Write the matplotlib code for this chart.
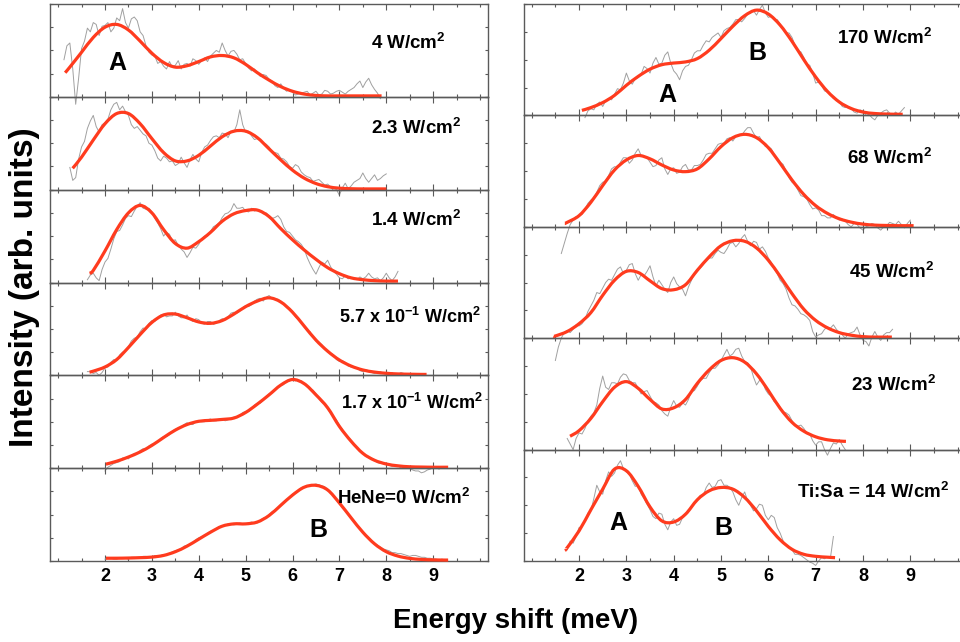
import numpy as np
import matplotlib
matplotlib.use("Agg")
import matplotlib.pyplot as plt
from matplotlib.ticker import FixedLocator, MultipleLocator, NullFormatter
from matplotlib.path import Path
from matplotlib.patches import PathPatch

plt.rcParams['font.family'] = ['Liberation Sans', 'DejaVu Sans']
plt.rcParams['mathtext.fontset'] = 'custom'
plt.rcParams['mathtext.rm'] = 'Liberation Sans:bold'
plt.rcParams['mathtext.default'] = 'rm'

# ---------------- data (energy shift in meV, intensity in panel units) -------------
RAW_STEP = 0.0625

# Left column, top to bottom
l1_label = "4 W/cm$^{2}$"
l1_fit_x = [1.15, 1.25, 1.5, 1.75, 2.0, 2.25, 2.5, 2.75, 3.0, 3.25, 3.5, 3.75, 4.0, 4.25, 4.5,
            4.75, 5.0, 5.25, 5.5, 5.75, 6.0, 6.25, 6.5, 6.75, 7.0, 7.25, 7.5, 7.75, 7.9]
l1_fit_y = [0.26, 0.32, 0.48, 0.64, 0.75, 0.78, 0.72, 0.60, 0.47, 0.37, 0.32, 0.335, 0.38, 0.43, 0.445,
            0.42, 0.35, 0.26, 0.18, 0.11, 0.06, 0.03, 0.015, 0.01, 0.01, 0.01, 0.01, 0.01, 0.01]
l1_raw_start = 1.125
l1_raw_y = [0.40, 0.55, 0.58, 0.30, -0.08, 0.20, 0.52, 0.60, 0.74, 0.70, 0.80, 0.78, 0.66, 0.76, 0.77,
            0.80, 0.70, 0.74, 0.85, 0.82, 0.95, 0.80, 0.74, 0.84, 0.86, 0.82, 0.70, 0.66, 0.55, 0.48,
            0.45, 0.44, 0.36, 0.38, 0.33, 0.30, 0.38, 0.32, 0.34, 0.39, 0.30, 0.35, 0.36, 0.33, 0.41,
            0.39, 0.35, 0.39, 0.42, 0.38, 0.44, 0.47, 0.50, 0.48, 0.58, 0.50, 0.44, 0.49, 0.50, 0.46,
            0.40, 0.41, 0.36, 0.31, 0.28, 0.30, 0.26, 0.22, 0.24, 0.23, 0.19, 0.17, 0.12, 0.10, 0.14,
            0.09, 0.06, 0.08, 0.05, 0.02, 0.03, 0.04, 0.05, 0.06, 0.02, 0.04, 0.06, 0.02, 0.03, 0.07,
            0.06, 0.03, 0.04, 0.06, 0.07, 0.05, 0.03, 0.06, 0.08, 0.10, 0.14, 0.17, 0.10, 0.16, 0.20,
            0.13, 0.08, 0.04, -0.02]

l2_label = "2.3 W/cm$^{2}$"
l2_fit_x = [1.31, 1.5, 1.75, 2.0, 2.25, 2.5, 2.75, 3.0, 3.25, 3.5, 3.75, 4.0, 4.25, 4.5, 4.75, 5.0,
            5.25, 5.5, 5.75, 6.0, 6.25, 6.5, 6.75, 7.0, 7.25, 7.5, 7.75, 8.0]
l2_fit_y = [0.23, 0.35, 0.535, 0.71, 0.82, 0.82, 0.71, 0.55, 0.40, 0.31, 0.31, 0.37, 0.47, 0.57, 0.63, 0.63,
            0.56, 0.44, 0.32, 0.21, 0.124, 0.066, 0.032, 0.016, 0.01, 0.008, 0.008, 0.008]
l2_raw_start = 1.25
l2_raw_y = [0.24, 0.10, 0.13, 0.33, 0.46, 0.52, 0.66, 0.74, 0.80, 0.68, 0.62, 0.70, 0.72, 0.76, 0.86,
            0.92, 0.94, 0.86, 0.90, 0.84, 0.80, 0.70, 0.66, 0.68, 0.64, 0.60, 0.58, 0.50, 0.48, 0.42,
            0.34, 0.31, 0.36, 0.34, 0.30, 0.31, 0.26, 0.28, 0.35, 0.29, 0.24, 0.32, 0.38, 0.33, 0.30,
            0.40, 0.46, 0.48, 0.53, 0.57, 0.58, 0.56, 0.61, 0.60, 0.56, 0.63, 0.62, 0.70, 0.86, 0.70,
            0.62, 0.63, 0.58, 0.54, 0.55, 0.53, 0.50, 0.49, 0.46, 0.41, 0.40, 0.39, 0.34, 0.33, 0.30,
            0.25, 0.23, 0.27, 0.25, 0.19, 0.16, 0.14, 0.13, 0.09, 0.10, 0.11, 0.08, 0.05, 0.06, 0.03,
            -0.01, 0.00, -0.06, 0.02, 0.07, 0.01, 0.04, 0.08, 0.10, 0.12, 0.18, 0.12, 0.08, 0.12, 0.16,
            0.10, 0.12, 0.15, 0.17]

l3_label = "1.4 W/cm$^{2}$"
l3_fit_x = [1.67, 1.75, 2.0, 2.25, 2.5, 2.75, 3.0, 3.25, 3.5, 3.75, 4.0, 4.25, 4.5, 4.75, 5.0, 5.25,
            5.5, 5.75, 6.0, 6.25, 6.5, 6.75, 7.0, 7.25, 7.5, 7.75, 8.0, 8.25]
l3_fit_y = [0.10, 0.13, 0.34, 0.57, 0.75, 0.83, 0.75, 0.57, 0.42, 0.37, 0.44, 0.54, 0.66, 0.74, 0.775, 0.78,
            0.71, 0.58, 0.46, 0.35, 0.25, 0.16, 0.095, 0.05, 0.03, 0.02, 0.015, 0.015]
l3_raw_start = 1.625
l3_raw_y = [0.03, 0.08, 0.10, 0.05, 0.02, 0.14, 0.22, 0.26, 0.36, 0.47, 0.55, 0.56, 0.62, 0.69, 0.72,
            0.71, 0.77, 0.82, 0.86, 0.80, 0.79, 0.80, 0.76, 0.69, 0.64, 0.58, 0.50, 0.54, 0.52, 0.45,
            0.46, 0.40, 0.36, 0.33, 0.27, 0.32, 0.38, 0.37, 0.41, 0.47, 0.50, 0.50, 0.55, 0.60, 0.62,
            0.64, 0.70, 0.74, 0.75, 0.78, 0.85, 0.80, 0.80, 0.81, 0.77, 0.76, 0.80, 0.77, 0.78, 0.77,
            0.74, 0.75, 0.72, 0.69, 0.70, 0.72, 0.68, 0.60, 0.55, 0.54, 0.50, 0.46, 0.44, 0.41, 0.36,
            0.27, 0.20, 0.14, 0.09, 0.16, 0.22, 0.20, 0.24, 0.17, 0.12, 0.09, 0.05, 0.04, 0.07, 0.04,
            0.05, 0.05, 0.03, 0.06, 0.04, 0.06, 0.10, 0.06, 0.04, 0.05, 0.02, 0.05, 0.10, 0.05, 0.02,
            0.06, 0.12]

l4_label = "5.7 x 10$^{-1}$ W/cm$^{2}$"
l4_fit_x = [1.67, 1.75, 2.0, 2.25, 2.5, 2.75, 3.0, 3.25, 3.5, 3.75, 4.0, 4.25, 4.5, 4.75, 5.0, 5.25,
            5.5, 5.75, 6.0, 6.25, 6.5, 6.75, 7.0, 7.25, 7.5, 7.75, 8.0, 8.25, 8.5, 8.75, 8.86]
l4_fit_y = [0.035, 0.045, 0.09, 0.17, 0.30, 0.44, 0.57, 0.65, 0.66, 0.62, 0.575, 0.56, 0.59, 0.66, 0.74,
            0.80, 0.835, 0.79, 0.68, 0.53, 0.38, 0.26, 0.165, 0.10, 0.058, 0.035, 0.022, 0.015, 0.012,
            0.01, 0.01]
l4_raw_start = 1.625
l4_raw_y = [0.04, 0.04, 0.02, 0.03, 0.00, 0.03, 0.08, 0.09, 0.14, 0.17, 0.16, 0.22, 0.25, 0.26, 0.31,
            0.37, 0.40, 0.41, 0.47, 0.51, 0.50, 0.56, 0.59, 0.58, 0.62, 0.65, 0.66, 0.63, 0.64, 0.64,
            0.68, 0.64, 0.62, 0.62, 0.65, 0.60, 0.58, 0.61, 0.60, 0.56, 0.55, 0.58, 0.58, 0.55, 0.56,
            0.59, 0.61, 0.60, 0.63, 0.67, 0.68, 0.67, 0.69, 0.73, 0.75, 0.74, 0.76, 0.80, 0.82, 0.83,
            0.80, 0.84, 0.86, 0.83, 0.82, 0.82, 0.80, 0.77, 0.73, 0.72, 0.69, 0.63, 0.60, 0.57, 0.52,
            0.48, 0.47, 0.41, 0.37, 0.36, 0.33, 0.28, 0.25, 0.24, 0.22, 0.17, 0.15, 0.16, 0.14, 0.10,
            0.09, 0.09, 0.08, 0.05, 0.04, 0.06, 0.05, 0.03, 0.02, 0.03, 0.04, 0.02, 0.01, 0.02, 0.03,
            0.00, 0.01, 0.03, 0.02, 0.01, 0.00, 0.02, 0.02, 0.00, 0.01]

l5_label = "1.7 x 10$^{-1}$ W/cm$^{2}$"
l5_fit_x = [2.02, 2.25, 2.5, 2.75, 3.0, 3.25, 3.5, 3.75, 4.0, 4.25, 4.5, 4.75, 5.0, 5.25, 5.5, 5.75,
            6.0, 6.25, 6.5, 6.75, 7.0, 7.25, 7.5, 7.75, 8.0, 8.25, 8.5, 8.75, 9.0, 9.25, 9.32]
l5_fit_y = [0.043, 0.075, 0.12, 0.175, 0.245, 0.33, 0.41, 0.47, 0.505, 0.515, 0.525, 0.54, 0.60, 0.69,
            0.79, 0.895, 0.955, 0.91, 0.79, 0.65, 0.45, 0.29, 0.16, 0.085, 0.045, 0.025, 0.015, 0.012,
            0.01, 0.01, 0.01]
l5_raw_start = 2.0
l5_raw_y = [-0.03, 0.01, 0.03, 0.05, 0.06, 0.07, 0.11, 0.11, 0.10, 0.14, 0.16, 0.16, 0.19, 0.21, 0.20,
            0.24, 0.26, 0.26, 0.28, 0.32, 0.34, 0.34, 0.36, 0.40, 0.42, 0.42, 0.44, 0.47, 0.49, 0.47,
            0.47, 0.50, 0.51, 0.50, 0.50, 0.52, 0.53, 0.51, 0.51, 0.53, 0.53, 0.51, 0.52, 0.54, 0.55,
            0.55, 0.57, 0.60, 0.61, 0.61, 0.64, 0.68, 0.70, 0.70, 0.73, 0.77, 0.80, 0.81, 0.84, 0.87,
            0.89, 0.90, 0.94, 0.94, 0.96, 0.94, 0.95, 0.94, 0.91, 0.89, 0.85, 0.84, 0.80, 0.75, 0.71,
            0.69, 0.64, 0.59, 0.56, 0.52, 0.46, 0.42, 0.37, 0.34, 0.30, 0.26, 0.21, 0.19, 0.16, 0.13,
            0.11, 0.11, 0.09, 0.06, 0.05, 0.06, 0.05, 0.03, 0.02, 0.03, 0.03, 0.00, 0.01, 0.02, 0.00,
            -0.02, -0.03, -0.03, -0.05, -0.04, -0.02, -0.01, 0.01, 0.01, -0.01, 0.01, 0.00]

l6_label = "HeNe=0 W/cm$^{2}$"
l6_fit_x = [2.02, 2.25, 2.5, 2.75, 3.0, 3.25, 3.5, 3.75, 4.0, 4.25, 4.5, 4.75, 5.0, 5.25, 5.5, 5.75,
            6.0, 6.25, 6.5, 6.75, 7.0, 7.25, 7.5, 7.75, 8.0, 8.25, 8.5, 8.75, 9.0, 9.25, 9.32]
l6_fit_y = [0.03, 0.03, 0.032, 0.036, 0.042, 0.06, 0.10, 0.16, 0.235, 0.31, 0.375, 0.40, 0.40, 0.42,
            0.49, 0.60, 0.71, 0.795, 0.815, 0.765, 0.625, 0.465, 0.31, 0.185, 0.10, 0.053, 0.028, 0.017,
            0.012, 0.01, 0.01]
l6_raw_start = 2.0
l6_raw_y = [0.02, 0.03, 0.03, 0.02, 0.02, 0.03, 0.03, 0.03, 0.02, 0.04, 0.04, 0.03, 0.03, 0.05, 0.05,
            0.04, 0.04, 0.06, 0.05, 0.06, 0.07, 0.07, 0.08, 0.10, 0.11, 0.12, 0.13, 0.16, 0.17, 0.18,
            0.20, 0.23, 0.25, 0.26, 0.27, 0.30, 0.32, 0.33, 0.35, 0.37, 0.38, 0.38, 0.40, 0.40, 0.39,
            0.40, 0.41, 0.40, 0.40, 0.41, 0.42, 0.41, 0.41, 0.44, 0.46, 0.47, 0.50, 0.53, 0.55, 0.57,
            0.61, 0.64, 0.66, 0.69, 0.72, 0.73, 0.76, 0.79, 0.80, 0.81, 0.81, 0.82, 0.83, 0.82, 0.81,
            0.80, 0.77, 0.74, 0.70, 0.66, 0.62, 0.59, 0.55, 0.50, 0.47, 0.43, 0.39, 0.35, 0.31, 0.28,
            0.25, 0.22, 0.19, 0.17, 0.15, 0.13, 0.12, 0.11, 0.09, 0.09, 0.08, 0.08, 0.07, 0.06, 0.05,
            0.06, 0.06, 0.05, 0.04, 0.04, 0.03, 0.03, 0.02, 0.02, 0.01, 0.02, 0.01]

# Right column, top to bottom
r1_label = "170 W/cm$^{2}$"
r1_fit_x = [2.06, 2.25, 2.5, 2.75, 3.0, 3.25, 3.5, 3.75, 4.0, 4.25, 4.5, 4.75, 5.0, 5.25, 5.5, 5.75,
            6.0, 6.25, 6.5, 6.75, 7.0, 7.25, 7.5, 7.75, 8.0, 8.25, 8.5, 8.75, 8.84]
r1_fit_y = [0.045, 0.07, 0.115, 0.18, 0.27, 0.35, 0.415, 0.455, 0.47, 0.48, 0.51, 0.585, 0.69, 0.80,
            0.895, 0.945, 0.91, 0.81, 0.665, 0.50, 0.345, 0.215, 0.12, 0.062, 0.03, 0.017, 0.012, 0.01,
            0.01]
r1_raw_start = 2.125
r1_raw_y = [-0.02, 0.04, 0.06, 0.05, 0.10, 0.12, 0.08, 0.13, 0.15, 0.14, 0.19, 0.24, 0.23, 0.29, 0.38,
            0.31, 0.28, 0.33, 0.34, 0.37, 0.44, 0.42, 0.38, 0.47, 0.52, 0.46, 0.47, 0.54, 0.57, 0.47,
            0.40, 0.37, 0.32, 0.40, 0.44, 0.45, 0.50, 0.56, 0.58, 0.58, 0.63, 0.67, 0.66, 0.70, 0.72,
            0.74, 0.70, 0.76, 0.78, 0.79, 0.82, 0.86, 0.86, 0.84, 0.87, 0.91, 0.92, 0.94, 0.90, 0.95,
            0.99, 0.92, 0.88, 0.89, 0.86, 0.86, 0.82, 0.77, 0.74, 0.74, 0.70, 0.63, 0.58, 0.57, 0.52,
            0.46, 0.45, 0.38, 0.29, 0.30, 0.27, 0.22, 0.21, 0.19, 0.15, 0.15, 0.12, 0.08, 0.07, 0.08,
            0.06, 0.03, 0.02, 0.05, 0.04, 0.00, 0.01, -0.02, -0.04, 0.00, 0.02, 0.04, 0.05, 0.02, 0.00,
            0.03, 0.01, 0.04, 0.07]

r2_label = "68 W/cm$^{2}$"
r2_fit_x = [1.70, 1.75, 2.0, 2.25, 2.5, 2.75, 3.0, 3.25, 3.5, 3.75, 4.0, 4.25, 4.5, 4.75, 5.0, 5.25,
            5.5, 5.75, 6.0, 6.25, 6.5, 6.75, 7.0, 7.25, 7.5, 7.75, 8.0, 8.25, 8.5, 8.75, 9.07]
r2_fit_y = [0.03, 0.04, 0.10, 0.22, 0.37, 0.51, 0.60, 0.64, 0.61, 0.555, 0.51, 0.495, 0.52, 0.61, 0.72,
            0.80, 0.83, 0.80, 0.71, 0.57, 0.42, 0.29, 0.19, 0.12, 0.072, 0.042, 0.024, 0.015, 0.012,
            0.01, 0.01]
r2_raw_start = 1.625
r2_raw_y = [-0.24, -0.15, -0.06, 0.02, 0.06, 0.09, 0.10, 0.11, 0.16, 0.21, 0.24, 0.26, 0.31, 0.37, 0.40,
            0.41, 0.46, 0.52, 0.54, 0.53, 0.58, 0.62, 0.62, 0.57, 0.60, 0.66, 0.70, 0.64, 0.63, 0.62,
            0.58, 0.54, 0.55, 0.60, 0.62, 0.52, 0.47, 0.52, 0.53, 0.48, 0.49, 0.54, 0.56, 0.51, 0.51,
            0.55, 0.55, 0.56, 0.60, 0.65, 0.66, 0.66, 0.70, 0.74, 0.75, 0.75, 0.79, 0.80, 0.77, 0.81,
            0.82, 0.82, 0.86, 0.89, 0.89, 0.84, 0.80, 0.81, 0.76, 0.72, 0.72, 0.70, 0.65, 0.60, 0.58,
            0.56, 0.50, 0.44, 0.40, 0.38, 0.33, 0.28, 0.27, 0.25, 0.20, 0.16, 0.17, 0.15, 0.10, 0.10,
            0.08, 0.08, 0.11, 0.08, 0.06, 0.07, 0.05, 0.02, 0.00, 0.03, 0.02, -0.01, -0.03, 0.00, 0.01,
            0.03, 0.02, -0.01, -0.03, 0.00, 0.01, 0.04, 0.03, 0.02, 0.05, 0.02, -0.01, 0.03, 0.06]

r3_label = "45 W/cm$^{2}$"
r3_fit_x = [1.46, 1.5, 1.75, 2.0, 2.25, 2.5, 2.75, 3.0, 3.25, 3.5, 3.75, 4.0, 4.25, 4.5, 4.75, 5.0,
            5.25, 5.5, 5.75, 6.0, 6.25, 6.5, 6.75, 7.0, 7.25, 7.5, 7.75, 8.0, 8.25, 8.5, 8.61]
r3_fit_y = [0.018, 0.02, 0.06, 0.13, 0.23, 0.385, 0.52, 0.60, 0.59, 0.515, 0.445, 0.435, 0.48, 0.61,
            0.73, 0.83, 0.875, 0.87, 0.81, 0.70, 0.555, 0.40, 0.26, 0.16, 0.093, 0.05, 0.027, 0.014,
            0.01, 0.01, 0.01]
r3_raw_start = 1.5
r3_raw_y = [-0.20, -0.08, 0.00, 0.05, 0.07, 0.05, 0.08, 0.12, 0.11, 0.13, 0.17, 0.24, 0.29, 0.34, 0.41,
            0.40, 0.45, 0.50, 0.53, 0.52, 0.57, 0.62, 0.64, 0.58, 0.61, 0.66, 0.67, 0.58, 0.52, 0.57,
            0.56, 0.60, 0.65, 0.55, 0.47, 0.52, 0.48, 0.44, 0.41, 0.50, 0.55, 0.49, 0.46, 0.44, 0.38,
            0.46, 0.52, 0.58, 0.62, 0.63, 0.66, 0.70, 0.72, 0.72, 0.76, 0.79, 0.77, 0.76, 0.80, 0.85,
            0.86, 0.82, 0.85, 0.90, 0.93, 0.87, 0.83, 0.87, 0.86, 0.80, 0.82, 0.78, 0.72, 0.68, 0.62,
            0.58, 0.52, 0.49, 0.44, 0.36, 0.30, 0.29, 0.26, 0.22, 0.21, 0.19, 0.16, 0.06, 0.01, 0.03,
            0.04, 0.08, 0.10, 0.09, 0.12, 0.08, 0.05, 0.03, 0.00, 0.04, 0.05, 0.06, 0.10, 0.03, -0.02,
            -0.03, -0.07, 0.01, 0.06, 0.01, -0.02, 0.03, 0.05, 0.05, 0.08]

r4_label = "23 W/cm$^{2}$"
r4_fit_x = [1.81, 2.0, 2.25, 2.5, 2.75, 3.0, 3.25, 3.5, 3.75, 4.0, 4.25, 4.5, 4.75, 5.0, 5.25, 5.5,
            5.75, 6.0, 6.25, 6.5, 6.75, 7.0, 7.25, 7.5, 7.64]
r4_fit_y = [0.12, 0.17, 0.28, 0.43, 0.56, 0.61, 0.55, 0.45, 0.365, 0.375, 0.45, 0.595, 0.715, 0.80,
            0.825, 0.785, 0.68, 0.53, 0.37, 0.245, 0.165, 0.115, 0.088, 0.077, 0.074]
r4_raw_start = 1.75
r4_raw_y = [0.10, 0.05, 0.00, 0.10, 0.15, 0.14, 0.19, 0.26, 0.30, 0.33, 0.40, 0.55, 0.66, 0.56, 0.54,
            0.60, 0.60, 0.59, 0.65, 0.68, 0.67, 0.62, 0.60, 0.60, 0.55, 0.50, 0.52, 0.53, 0.48, 0.43,
            0.42, 0.40, 0.35, 0.32, 0.30, 0.38, 0.44, 0.39, 0.38, 0.42, 0.40, 0.45, 0.52, 0.53, 0.57,
            0.62, 0.64, 0.64, 0.69, 0.73, 0.73, 0.76, 0.80, 0.85, 0.90, 0.84, 0.86, 0.90, 0.91, 0.84,
            0.79, 0.78, 0.74, 0.65, 0.58, 0.62, 0.62, 0.54, 0.50, 0.48, 0.43, 0.42, 0.38, 0.34, 0.33,
            0.31, 0.26, 0.22, 0.21, 0.22, 0.19, 0.15, 0.14, 0.08, 0.04, 0.07, 0.07, 0.00, -0.05, 0.01,
            0.06, 0.05, 0.09, 0.04, 0.00]

r5_label = "Ti:Sa = 14 W/cm$^{2}$"
r5_fit_x = [1.72, 1.75, 2.0, 2.25, 2.5, 2.75, 3.0, 3.25, 3.5, 3.75, 4.0, 4.25, 4.5, 4.75, 5.0, 5.25,
            5.5, 5.75, 6.0, 6.25, 6.5, 6.75, 7.0, 7.25, 7.41]
r5_fit_y = [0.108, 0.12, 0.27, 0.46, 0.645, 0.825, 0.81, 0.67, 0.485, 0.36, 0.35, 0.42, 0.55, 0.63,
            0.66, 0.645, 0.57, 0.45, 0.31, 0.19, 0.105, 0.06, 0.042, 0.034, 0.03]
r5_raw_start = 1.75
r5_raw_y = [0.10, 0.18, 0.16, 0.22, 0.30, 0.31, 0.36, 0.43, 0.45, 0.56, 0.68, 0.62, 0.60, 0.72, 0.80,
            0.76, 0.79, 0.86, 0.90, 0.83, 0.80, 0.78, 0.72, 0.67, 0.68, 0.60, 0.56, 0.51, 0.46, 0.40,
            0.38, 0.43, 0.42, 0.33, 0.28, 0.35, 0.38, 0.32, 0.33, 0.39, 0.42, 0.44, 0.49, 0.51, 0.55,
            0.59, 0.59, 0.66, 0.70, 0.66, 0.67, 0.72, 0.73, 0.68, 0.68, 0.66, 0.62, 0.55, 0.50, 0.57,
            0.62, 0.54, 0.50, 0.45, 0.47, 0.51, 0.50, 0.41, 0.37, 0.41, 0.39, 0.30, 0.25, 0.18, 0.14,
            0.13, 0.10, 0.06, 0.06, 0.05, 0.03, 0.01, -0.01, -0.02, -0.04, 0.00, 0.03, 0.02, 0.04, 0.03,
            0.22]

x_tick_values = [2, 3, 4, 5, 6, 7, 8, 9]
x_tick_labels = ["2", "3", "4", "5", "6", "7", "8", "9"]

# peak letters: (text, x_px, y_px)
peak_letters = [("A", 117, 63), ("B", 318, 530), ("A", 667, 95), ("B", 757, 53),
                ("A", 618, 523), ("B", 723, 528)]

# ---------------- figure ----------------
W, H = 960, 642
fig = plt.figure(figsize=(W / 100, H / 100), dpi=100)

RED = '#ff3b1e'
GRAY = '#a0a0a0'
SPINE = '#5a5a5a'


def fx(px):
    return px / W


def fy(py):
    return 1 - py / H


def smooth_path(xs, ys):
    """Catmull-Rom style smooth line through the given points (drawing only)."""
    p = np.column_stack([xs, ys]).astype(float)
    n = len(p)
    verts = [p[0]]
    codes = [Path.MOVETO]
    for i in range(n - 1):
        p0 = p[i - 1] if i > 0 else p[i]
        p1 = p[i]
        p2 = p[i + 1]
        p3 = p[i + 2] if i + 2 < n else p[i + 1]
        c1 = p1 + (p2 - p0) / 6.0
        c2 = p2 - (p3 - p1) / 6.0
        verts += [c1, c2, p2]
        codes += [Path.CURVE4] * 3
    return Path(verts, codes)


def make_panel(rect, xlim, fit_x, fit_y, raw_start, raw_y, bottom, right_visible):
    ax = fig.add_axes(rect)
    ax.set_facecolor('none')
    raw_x = raw_start + RAW_STEP * np.arange(len(raw_y))
    ax.plot(raw_x, raw_y, color=GRAY, lw=0.7, clip_on=False, zorder=2)
    patch = PathPatch(smooth_path(fit_x, fit_y), facecolor='none', edgecolor=RED, lw=2.3,
                      transform=ax.transData, clip_on=False, zorder=3, capstyle='butt')
    ax.add_patch(patch)
    ax.set_xlim(*xlim)
    ax.set_ylim(0, 1)
    ax.xaxis.set_major_locator(FixedLocator(x_tick_values))
    ax.xaxis.set_minor_locator(MultipleLocator(0.5))
    ax.yaxis.set_major_locator(MultipleLocator(0.25))
    ax.yaxis.set_major_formatter(NullFormatter())
    ax.tick_params(axis='x', which='both', direction='in', top=True, bottom=True,
                   color=SPINE, width=0.8)
    ax.tick_params(axis='x', which='major', length=4)
    ax.tick_params(axis='x', which='minor', length=2.5)
    ax.tick_params(axis='y', which='both', direction='in', left=True, right=right_visible,
                   length=2.5, color=SPINE, width=0.8)
    if bottom:
        ax.set_xticklabels(x_tick_labels)
        ax.tick_params(axis='x', labelsize=13, pad=5)
        for t in ax.get_xticklabels():
            t.set_fontweight('bold')
    else:
        ax.set_xticklabels([])
    for s in ax.spines.values():
        s.set_color(SPINE)
        s.set_linewidth(1.0)
    if not right_visible:
        ax.spines['right'].set_visible(False)
    return ax


top_px, bot_px = 4, 561

left_panels = [
    (l1_fit_x, l1_fit_y, l1_raw_start, l1_raw_y),
    (l2_fit_x, l2_fit_y, l2_raw_start, l2_raw_y),
    (l3_fit_x, l3_fit_y, l3_raw_start, l3_raw_y),
    (l4_fit_x, l4_fit_y, l4_raw_start, l4_raw_y),
    (l5_fit_x, l5_fit_y, l5_raw_start, l5_raw_y),
    (l6_fit_x, l6_fit_y, l6_raw_start, l6_raw_y),
]
right_panels = [
    (r1_fit_x, r1_fit_y, r1_raw_start, r1_raw_y),
    (r2_fit_x, r2_fit_y, r2_raw_start, r2_raw_y),
    (r3_fit_x, r3_fit_y, r3_raw_start, r3_raw_y),
    (r4_fit_x, r4_fit_y, r4_raw_start, r4_raw_y),
    (r5_fit_x, r5_fit_y, r5_raw_start, r5_raw_y),
]

L_x0, L_x1 = 50, 488
R_x0, R_x1 = 524, 960
L_xlim = (0.827, 10.17)
R_xlim = (0.837, 10.05)

n = len(left_panels)
h = (bot_px - top_px) / n
for i, p in enumerate(left_panels):
    y_top = top_px + i * h
    rect = [fx(L_x0), fy(y_top + h), (L_x1 - L_x0) / W, h / H]
    make_panel(rect, L_xlim, *p, bottom=(i == n - 1), right_visible=True)

n = len(right_panels)
h = (bot_px - top_px) / n
for i, p in enumerate(right_panels):
    y_top = top_px + i * h
    rect = [fx(R_x0), fy(y_top + h), (R_x1 - R_x0) / W, h / H]
    make_panel(rect, R_xlim, *p, bottom=(i == n - 1), right_visible=False)

# power labels: (text, x_px, y_px, fontsize)
power_labels = [
    (l1_label, 371, 43, 13.5), (l2_label, 371, 128, 13.5), (l3_label, 371, 220, 13.5),
    (l4_label, 339, 317, 13), (l5_label, 341, 403, 13), (l6_label, 337, 498, 13.5),
    (r1_label, 837, 38, 13.5), (r2_label, 847, 158, 13.5), (r3_label, 849, 272, 13.5),
    (r4_label, 851, 385, 13.5), (r5_label, 797, 492, 13.5),
]
for txt, x, y, fs in power_labels:
    fig.text(fx(x), fy(y), txt, fontsize=fs, fontweight='bold', ha='left', va='center',
             color='black')

for txt, x, y in peak_letters:
    fig.text(fx(x), fy(y), txt, fontsize=18, fontweight='bold', ha='center', va='center',
             color='black')

fig.text(fx(25), fy(287), "Intensity (arb. units)", rotation=90, fontsize=24,
         fontweight='bold', ha='center', va='center')
fig.text(fx(516), fy(621), "Energy shift (meV)", fontsize=20, fontweight='bold',
         ha='center', va='center')

fig.savefig("out.png", dpi=100)
